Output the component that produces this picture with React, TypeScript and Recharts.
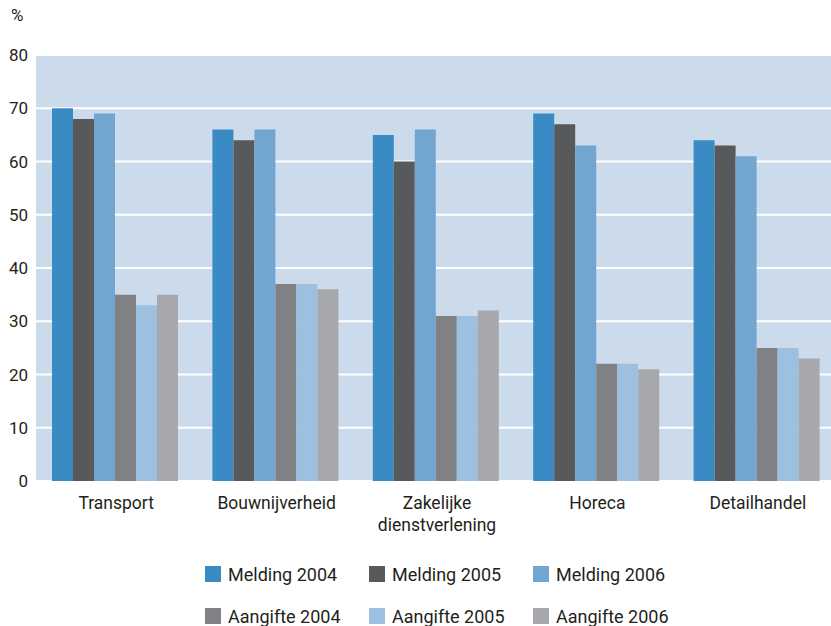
import { BarChart, Bar, XAxis, YAxis, CartesianGrid } from 'recharts';

const categories = ['Transport', 'Bouwnijverheid', 'Zakelijke\ndienstverlening', 'Horeca', 'Detailhandel'];
const melding2004 = [70, 66, 65, 69, 64];
const melding2005 = [68, 64, 60, 67, 63];
const melding2006 = [69, 66, 66, 63, 61];
const aangifte2004 = [35, 37, 31, 22, 25];
const aangifte2005 = [33, 37, 31, 22, 25];
const aangifte2006 = [35, 36, 32, 21, 23];
const yTicks = [0, 10, 20, 30, 40, 50, 60, 70, 80];

const series = [
    { key: 'm2004', name: 'Melding 2004', color: '#3a8bc4', values: melding2004 },
    { key: 'm2005', name: 'Melding 2005', color: '#58595b', values: melding2005 },
    { key: 'm2006', name: 'Melding 2006', color: '#72a5d0', values: melding2006 },
    { key: 'a2004', name: 'Aangifte 2004', color: '#808184', values: aangifte2004 },
    { key: 'a2005', name: 'Aangifte 2005', color: '#9dbfe0', values: aangifte2005 },
    { key: 'a2006', name: 'Aangifte 2006', color: '#a7a8ab', values: aangifte2006 },
];

const data: any = categories.map((name, i) => {
    const row: any = { name };
    series.forEach((s) => { row[s.key] = s.values[i]; });
    return row;
});

const font = 'Roboto, "Liberation Sans", sans-serif';

const CategoryTick = ({ x, y, payload }: any) => {
    const lines = String(payload.value).split('\n');
    return (
        <text x={x} y={y} textAnchor="middle" fill="#231f20" fontSize={17.5} fontFamily={font}>
            {lines.map((l: string, i: number) => (
                <tspan key={i} x={x} dy={i === 0 ? 20 : 22}>{l}</tspan>
            ))}
        </text>
    );
};

// plot runs a bit past the right edge, like the reference crop
const App = () => {
    return (
        <div style={{ position: 'absolute', left: 0, top: 0, width: 831, height: 626, background: '#fff', overflow: 'hidden' }}>
            <span style={{ position: 'absolute', left: 11, top: 5, fontFamily: font, fontSize: 17, color: '#231f20' }}>%</span>
            <BarChart width={838} height={626} data={data} margin={{ top: 55, right: 0, left: 0, bottom: 95 }}
                barCategoryGap={16} barGap={0}>
                <CartesianGrid vertical={false} fill="#ccdbeb" stroke="#ffffff" strokeWidth={2} />
                <XAxis dataKey="name" tick={<CategoryTick />} tickLine={false} axisLine={false} interval={0} height={50} />
                <YAxis domain={[0, 80]} ticks={yTicks} width={36} tickLine={false} axisLine={false}
                    tick={{ fill: '#231f20', fontSize: 17, fontFamily: font }} />
                {series.map((s) => (
                    <Bar key={s.key} dataKey={s.key} name={s.name} fill={s.color} isAnimationActive={false} />
                ))}
            </BarChart>
            <div style={{ position: 'absolute', left: 205, top: 566, width: 500, display: 'flex', flexWrap: 'wrap', fontFamily: font, fontSize: 18, color: '#231f20' }}>
                {series.map((s) => (
                    <div key={s.key} style={{ width: 164, height: 42, display: 'flex', alignItems: 'flex-start' }}>
                        <span style={{ width: 16, height: 16, background: s.color, display: 'inline-block', marginRight: 7, flexShrink: 0 }} />
                        <span style={{ lineHeight: '17px', whiteSpace: 'nowrap' }}>{s.name}</span>
                    </div>
                ))}
            </div>
        </div>
    );
};

export default App;
